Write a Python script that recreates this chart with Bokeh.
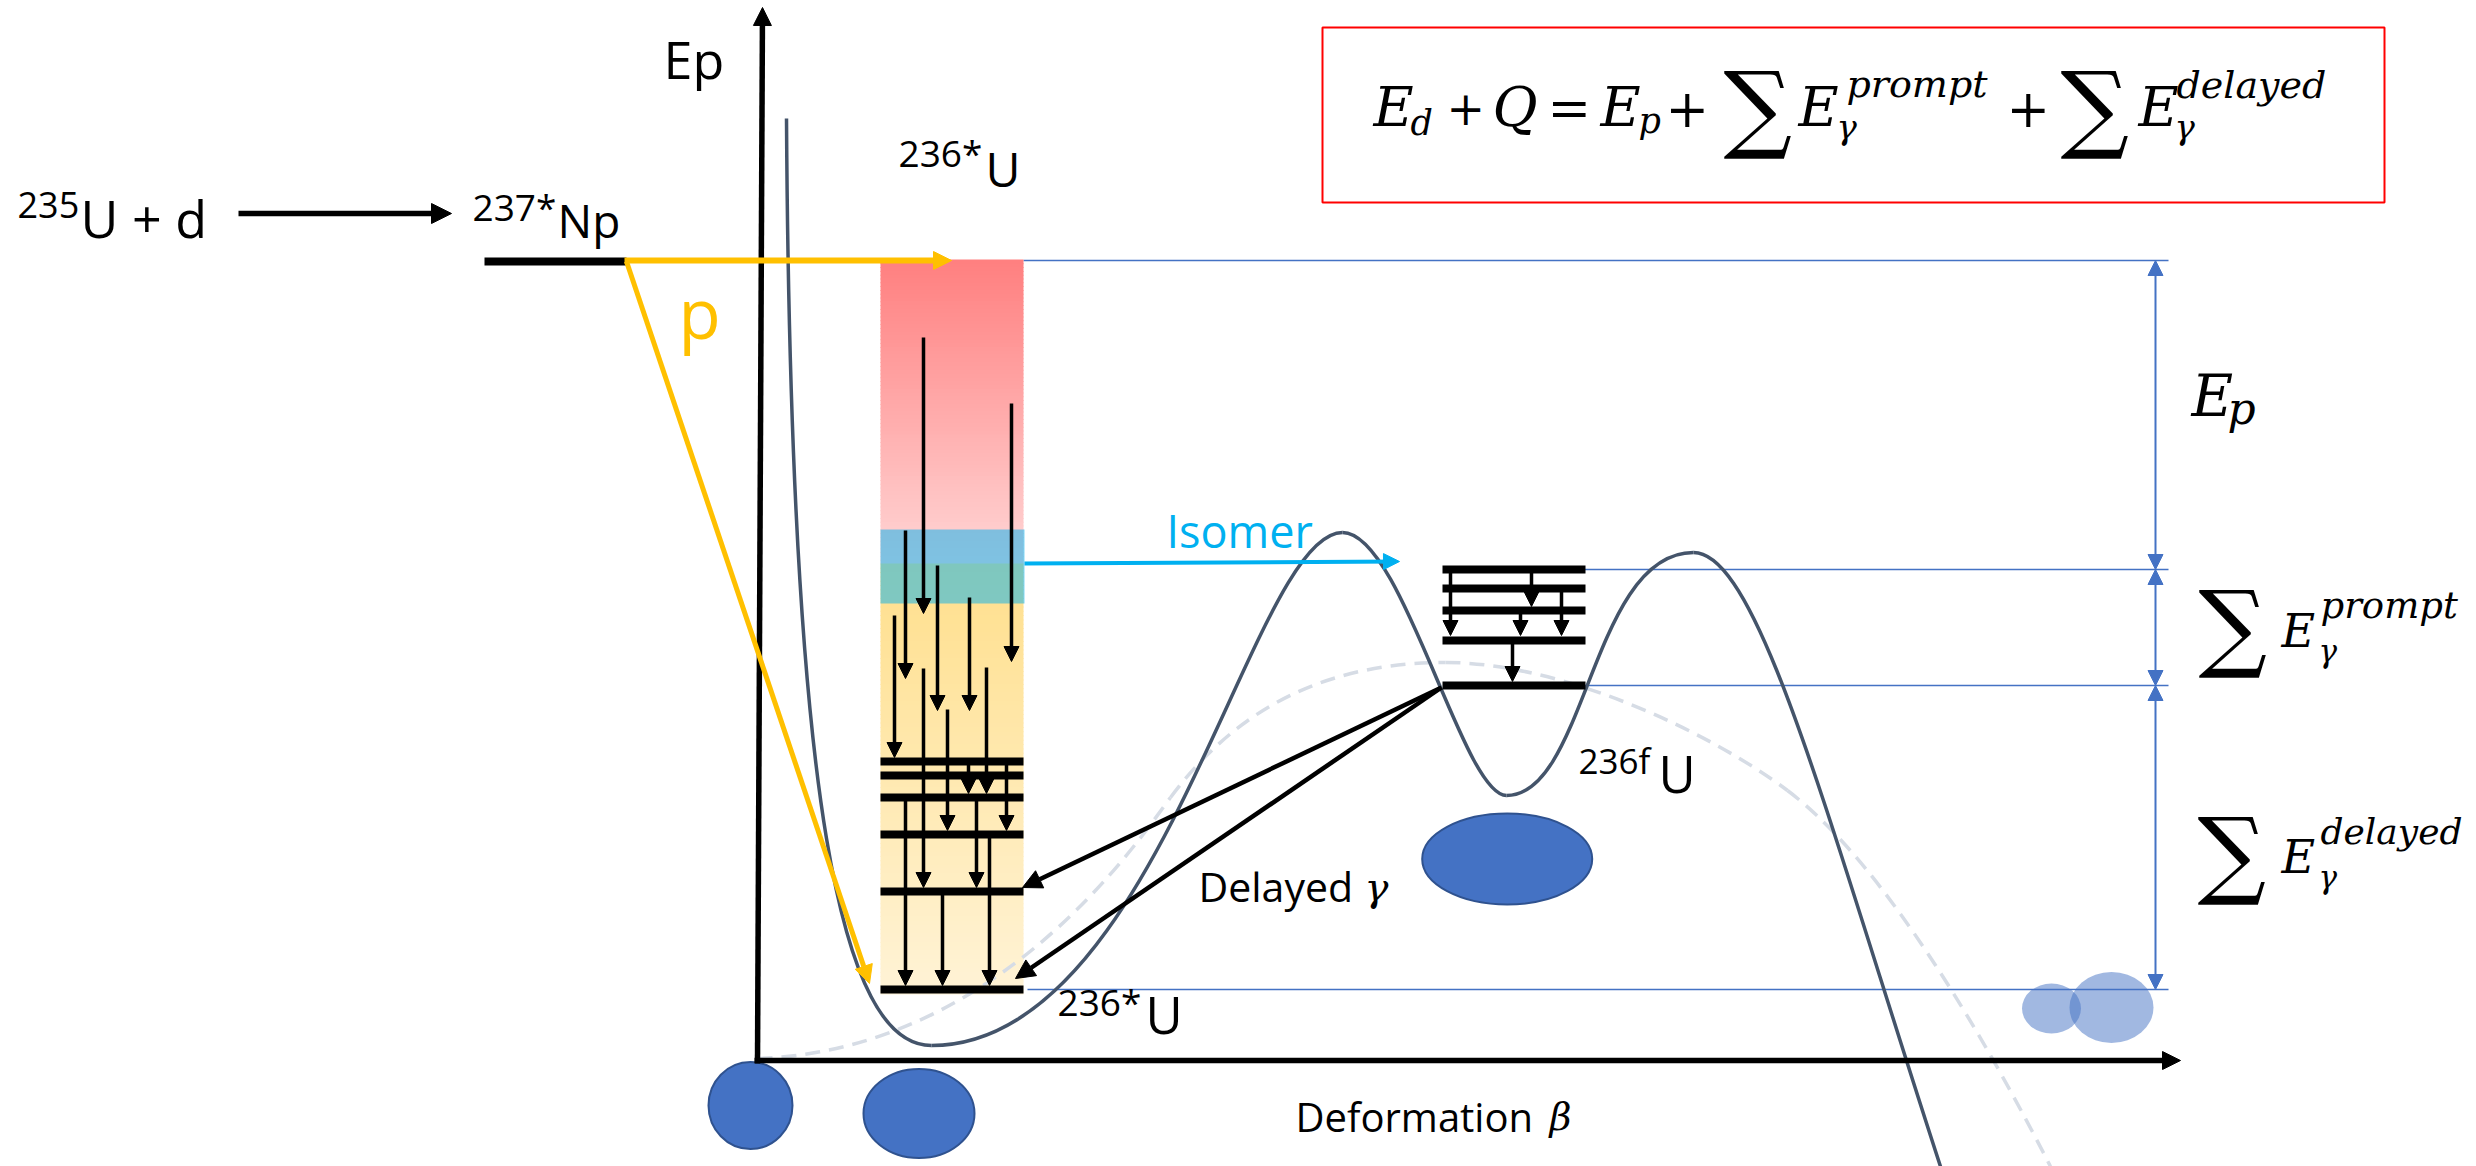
import numpy as np
from bokeh.plotting import figure
from bokeh.models import Range1d, Arrow, NormalHead, ColumnDataSource
from bokeh.core.properties import value
from bokeh.embed import file_html
from bokeh.resources import INLINE

# ---------------------------------------------------------------------------
# Schematic values (drawing units: deformation -> x, energy -> y, downward)
# ---------------------------------------------------------------------------
ENTRY_LEVEL = 260                     # 237*Np entry energy
ISOMER_BAND = [529, 603]              # band feeding the fission isomer
CONTINUUM_SPLIT = 563                 # boundary red (continuum) / yellow
CN_LEVELS = [761, 775, 797, 834, 891, 989]        # 236*U discrete levels
CN_GAMMA_X = [923, 1011, 905, 937, 969, 894, 923, 947, 986, 968, 1006, 905, 976, 989, 942]
CN_GAMMA_FROM = [337, 403, 530, 565, 597, 615, 668, 709, 667, 761, 761, 797, 797, 834, 891]
CN_GAMMA_TO = [613, 661, 678, 710, 710, 757, 887, 830, 793, 793, 830, 985, 887, 985, 985]
ISO_LEVELS = [569, 588, 610, 640, 685]             # 236fU levels (2nd well)
ISO_GAMMA_X = [1450, 1531, 1520, 1561, 1512]
ISO_GAMMA_FROM = [569, 569, 610, 588, 640]
ISO_GAMMA_TO = [635, 606, 635, 635, 681]
DELAYED_TO = [887, 978]                            # delayed gammas back to 1st well

# potential energy curve (cubic Bezier pieces: start, ctrl1, ctrl2, end)
POT_X0 = [786, 931, 1342, 1506, 1693]
POT_Y0 = [118, 1045, 532, 795, 552]
POT_CX0 = [790, 1160, 1402, 1586, 1758]
POT_CY0 = [800, 1045, 532, 795, 552]
POT_CX1 = [840, 1250, 1462, 1591, 1826]
POT_CY1 = [1045, 532, 795, 552, 816]
POT_X1 = [931, 1342, 1506, 1693, 1940]
POT_Y1 = [1045, 532, 795, 552, 1166]

# liquid-drop (dashed) curve
LD_X0 = [757, 1170, 1445, 1787]
LD_Y0 = [1058, 797, 662, 790]
LD_CX0 = [1000, 1220, 1560, 1867]
LD_CY0 = [1050, 730, 662, 850]
LD_CX1 = [1140, 1300, 1707, 1960]
LD_CY1 = [837, 662, 730, 990]
LD_X1 = [1170, 1445, 1787, 2050]
LD_Y1 = [797, 662, 790, 1166]

# ---------------------------------------------------------------------------
W, H = 2476, 1166
p = figure(width=W, height=H, x_range=Range1d(0, W), y_range=Range1d(H, 0),
           output_backend="svg", toolbar_location=None, min_border=0,
           x_axis_location=None, y_axis_location=None)
p.grid.visible = False
p.outline_line_color = None
p.background_fill_color = "white"
p.border_fill_color = "white"

BLUE = "#4472C4"
SLATE = "#44546A"
YEL = "#FFC000"
CYAN = "#00B0F0"

COL_L, COL_R = 880, 1023
ISO_L, ISO_R = 1442, 1585
DIM_X = 2155
REF_R = 2168
BASE_K = 0.3   # compensation of the rendered baseline offset (fraction of font size)


def arrows(xs, ys, xe, ye, color, lw, head, start_head=False):
    src = ColumnDataSource(dict(xs=xs, ys=ys, xe=xe, ye=ye))
    kw = {}
    if start_head:
        kw["start"] = NormalHead(size=head, fill_color=color, line_color=color, line_width=1)
    p.add_layout(Arrow(end=NormalHead(size=head, fill_color=color, line_color=color, line_width=1),
                       x_start="xs", y_start="ys", x_end="xe", y_end="ye", source=src,
                       line_color=color, line_width=lw, **kw))


def txt(s, x, y, size, font="Open Sans", style="normal", color="black"):
    p.text(x=[x], y=[y - BASE_K * size], text=[s], text_font=value(font), text_font_size=f"{size}px",
           text_font_style=style, text_color=color, text_baseline="alphabetic", text_align="left")


# reference (blue) lines
p.segment(x0=[COL_R, 1568, 1570, 1027], y0=[ENTRY_LEVEL, ISO_LEVELS[0], ISO_LEVELS[-1], CN_LEVELS[-1]],
          x1=[REF_R] * 4, y1=[ENTRY_LEVEL, ISO_LEVELS[0], ISO_LEVELS[-1], CN_LEVELS[-1]],
          line_color=BLUE, line_width=1.5)


# column gradients
def strips(y0, y1, c0, c1, n):
    ys = np.linspace(y0, y1, n + 1)
    cols = []
    for i in range(n):
        t = (i + 0.5) / n
        c = tuple(int(round(a + (b - a) * t)) for a, b in zip(c0, c1))
        cols.append("#%02x%02x%02x" % c)
    p.quad(left=COL_L, right=COL_R, top=ys[:-1], bottom=ys[1:] + 1.0, fill_color=cols, line_color=None)


strips(ENTRY_LEVEL - 1, CONTINUUM_SPLIT, (255, 127, 127), (255, 214, 214), 80)
strips(CONTINUUM_SPLIT, CN_LEVELS[-1] + 4, (255, 223, 140), (255, 243, 214), 100)

# dashed liquid drop curve
p.bezier(x0=LD_X0, y0=LD_Y0, x1=LD_X1, y1=LD_Y1, cx0=LD_CX0, cy0=LD_CY0, cx1=LD_CX1, cy1=LD_CY1,
         line_color="#D6DCE5", line_width=3.5, line_dash="15 9")

# 236*U levels and gamma cascades
p.segment(x0=[COL_L] * len(CN_LEVELS), y0=CN_LEVELS, x1=[COL_R] * len(CN_LEVELS), y1=CN_LEVELS,
          line_color="black", line_width=8)
arrows(CN_GAMMA_X, CN_GAMMA_FROM, CN_GAMMA_X, CN_GAMMA_TO, "black", 3.5, 15)

# isomer band (semi transparent over arrows)
p.quad(left=COL_L, right=COL_R + 1, top=ISOMER_BAND[0], bottom=ISOMER_BAND[1],
       fill_color=CYAN, fill_alpha=0.5, line_color=None)

# potential energy curve
p.bezier(x0=POT_X0, y0=POT_Y0, x1=POT_X1, y1=POT_Y1, cx0=POT_CX0, cy0=POT_CY0, cx1=POT_CX1, cy1=POT_CY1,
         line_color=SLATE, line_width=3.5)

# fission isomer levels
p.segment(x0=[ISO_L] * len(ISO_LEVELS), y0=ISO_LEVELS, x1=[ISO_R] * len(ISO_LEVELS), y1=ISO_LEVELS,
          line_color="black", line_width=8)
arrows(ISO_GAMMA_X, ISO_GAMMA_FROM, ISO_GAMMA_X, ISO_GAMMA_TO, "black", 3.5, 15)

# delayed gammas
arrows([ISO_L - 1] * 2, [ISO_LEVELS[-1] + 2] * 2, [COL_R - 1, COL_R - 8], DELAYED_TO, "black", 4.5, 19)

# isomer feeding arrow
arrows([COL_R + 1], [CONTINUUM_SPLIT], [1399], [ISO_LEVELS[0] - 8], CYAN, 4, 16)

# dimension arrows
dim_top = [ENTRY_LEVEL, ISO_LEVELS[0], ISO_LEVELS[-1]]
dim_bot = [ISO_LEVELS[0], ISO_LEVELS[-1], CN_LEVELS[-1]]
arrows([DIM_X] * 3, dim_top, [DIM_X] * 3, dim_bot, BLUE, 2, 15, start_head=True)

# axes
arrows([757], [1063], [762], [7], "black", 5.5, 18)
arrows([754], [1060], [2180], [1060], "black", 5.5, 18)

# entrance channel
arrows([238], [213], [451], [213], "black", 5.5, 20)
p.segment(x0=[484], y0=[ENTRY_LEVEL + 1], x1=[626], y1=[ENTRY_LEVEL + 1], line_color="black", line_width=8)
arrows([624], [ENTRY_LEVEL], [951], [ENTRY_LEVEL], YEL, 6, 18)
arrows([626], [ENTRY_LEVEL + 1], [869], [983], YEL, 5, 18)

# nuclear shapes
p.ellipse(x=[750, 918.5, 1506.7], y=[1105, 1113, 858.5], width=[84, 111, 170], height=[87, 89, 91],
          fill_color=BLUE, line_color="#2F528F", line_width=2)
p.ellipse(x=[2051, 2111], y=[1008, 1007], width=[59, 84], height=[50, 71],
          fill_color=BLUE, fill_alpha=0.5, line_color=None)

# equation box
p.quad(left=[1322], right=[2384], top=[27], bottom=[202], fill_color=None, line_color="red", line_width=2)

# ---------------------------------------------------------------------------
# texts
txt("235", 17, 215, 36)
txt("U + d", 80, 233, 52)
txt("237*", 472, 217, 37)
txt("Np", 557, 233, 46)
txt("Ep", 663, 74, 52)
txt("p", 678, 332, 69, color=YEL)
txt("236*", 898, 163, 37)
txt("U", 985, 182, 48)
txt("Isomer", 1166, 543, 45, color=CYAN)
txt("236f", 1578, 770, 35)
txt("U", 1658, 788, 51)
txt("236*", 1057, 1012, 37)
txt("U", 1145, 1029, 51)
txt("Delayed", 1198, 898, 41)
txt("γ", 1364, 898, 40, font="DejaVu Serif", style="italic")
txt("Deformation", 1295, 1128, 40)
txt("β", 1549, 1128, 38, font="DejaVu Serif", style="italic")

MF = "DejaVu Serif"
# equation
txt("E", 1373, 123, 55, MF, "italic")
txt("d", 1410, 133, 35, MF, "italic")
txt("+", 1446, 121, 46, MF)
txt("Q", 1492, 123, 55, MF, "italic")
txt("=", 1547, 123, 52, MF)
txt("E", 1600, 123, 55, MF, "italic")
txt("p", 1638, 131, 35, MF, "italic")
txt("+", 1665, 123, 52, MF)
txt("∑", 1723, 135, 96, MF)
txt("E", 1798, 123, 55, MF, "italic")
txt("γ", 1836, 137, 34, MF, "italic")
txt("prompt", 1846, 95, 38, MF, "italic")
txt("+", 2006, 123, 52, MF)
txt("∑", 2060, 135, 96, MF)
txt("E", 2138, 123, 55, MF, "italic")
txt("γ", 2174, 137, 34, MF, "italic")
txt("delayed", 2176, 96, 38, MF, "italic")

# right-hand labels
txt("E", 2191, 413, 57, MF, "italic")
txt("p", 2227, 421, 44, MF, "italic")
txt("∑", 2198, 654, 96, MF)
txt("E", 2281, 644, 46, MF, "italic")
txt("γ", 2318, 660, 31, MF, "italic")
txt("prompt", 2320, 616, 37, MF, "italic")
txt("∑", 2197, 881, 96, MF)
txt("E", 2281, 870, 46, MF, "italic")
txt("γ", 2318, 886, 31, MF, "italic")
txt("delayed", 2320, 842, 36, MF, "italic")

open("out.html", "w").write(file_html(p, INLINE))
